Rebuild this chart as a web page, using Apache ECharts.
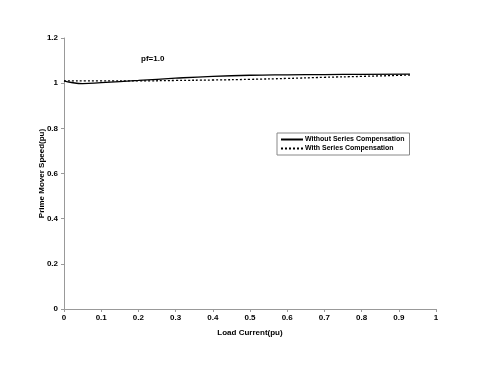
<!DOCTYPE html>
<html>
<head>
<meta charset="utf-8">
<script src="https://cdn.jsdelivr.net/npm/echarts@6/dist/echarts.min.js"></script>
<style>html,body{margin:0;padding:0;background:#fff}#c{width:500px;height:383px}</style>
</head>
<body>
<div id="c"></div>
<script>
const xTicks = [0, 0.1, 0.2, 0.3, 0.4, 0.5, 0.6, 0.7, 0.8, 0.9, 1];
const yTicks = [0, 0.2, 0.4, 0.6, 0.8, 1, 1.2];
const seriesNames = ['Without Series Compensation', 'With Series Compensation'];
const withoutX = [0, 0.02, 0.05, 0.1, 0.2, 0.3, 0.4, 0.5, 0.6, 0.7, 0.8, 0.93];
const withoutY = [1.010, 1.003, 0.998, 1.002, 1.012, 1.022, 1.030, 1.035, 1.037, 1.038, 1.039, 1.040];
const withX = [0, 0.1, 0.2, 0.3, 0.4, 0.5, 0.6, 0.7, 0.8, 0.93];
const withY = [1.010, 1.010, 1.010, 1.012, 1.014, 1.017, 1.021, 1.026, 1.030, 1.036];
const titleText = 'pf=1.0';

const font = 'Liberation Sans, Arial, sans-serif';
const chart = echarts.init(document.getElementById('c'));
chart.setOption({
  animation: false,
  backgroundColor: '#fff',
  title: { text: titleText, left: 136, top: 50, textStyle: { fontFamily: font, fontSize: 8, fontWeight: 'bold', color: '#000' } },
  legend: {
    orient: 'vertical', left: 277, top: 133,
    data: seriesNames,
    borderColor: '#888', borderWidth: 1, padding: [3, 5, 3, 3],
    itemWidth: 22, itemHeight: 8, itemGap: 2,
    itemStyle: { opacity: 0 },
    textStyle: { fontFamily: font, fontSize: 7, fontWeight: 'bold', color: '#000', padding: [0, 0, 0, -3] }
  },
  grid: { left: 64, right: 64, top: 38, bottom: 74 },
  xAxis: {
    type: 'value', min: 0, max: 1, interval: 0.1,
    name: 'Load Current(pu)', nameLocation: 'middle', nameGap: 20,
    nameTextStyle: { fontFamily: font, fontSize: 8, fontWeight: 'bold', color: '#000' },
    axisLine: { lineStyle: { color: '#999' } },
    axisTick: { show: true, inside: false, length: 3, lineStyle: { color: '#999' } },
    splitLine: { show: false },
    axisLabel: { fontFamily: font, fontSize: 8, fontWeight: 'bold', color: '#000', margin: 5,
      formatter: v => { const t = xTicks.find(x => Math.abs(x - v) < 1e-9); return t === undefined ? '' : String(t); } }
  },
  yAxis: {
    type: 'value', min: 0, max: 1.2, interval: 0.2,
    name: 'Prime Mover Speed(pu)', nameLocation: 'middle', nameGap: 18, nameRotate: 90,
    nameMoveOverlap: false,
    nameTextStyle: { fontFamily: font, fontSize: 8, fontWeight: 'bold', color: '#000' },
    axisLine: { show: true, lineStyle: { color: '#999' } },
    axisTick: { show: true, length: 3, lineStyle: { color: '#999' } },
    splitLine: { show: false },
    axisLabel: { fontFamily: font, fontSize: 8, fontWeight: 'bold', color: '#000', margin: 6,
      formatter: v => { const t = yTicks.find(y => Math.abs(y - v) < 1e-9); return t === undefined ? '' : String(t); } }
  },
  series: [
    { name: seriesNames[0], type: 'line', smooth: true, showSymbol: false, symbol: 'none',
      data: withoutX.map((x, i) => [x, withoutY[i]]),
      lineStyle: { color: '#000', width: 1.3, type: 'solid' }, itemStyle: { color: '#000' } },
    { name: seriesNames[1], type: 'line', smooth: true, showSymbol: false, symbol: 'none',
      data: withX.map((x, i) => [x, withY[i]]),
      lineStyle: { color: '#000', width: 1.3, type: [2, 2] }, itemStyle: { color: '#000' } }
  ]
});
</script>
</body>
</html>
